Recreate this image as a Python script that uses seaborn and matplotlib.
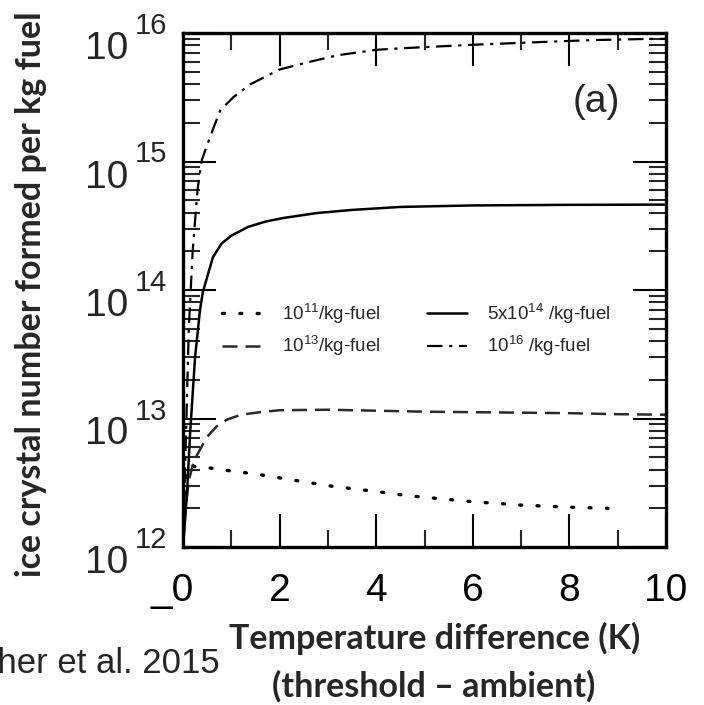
import matplotlib
matplotlib.use("Agg")
import matplotlib.pyplot as plt
import matplotlib.ticker as mticker
from matplotlib.transforms import ScaledTranslation, blended_transform_factory
import numpy as np
import pandas as pd
import seaborn as sns

# Temperature difference (K) and ice crystal number per kg fuel, per soot emission index
x_ei11 = [0.0, 0.05, 0.1, 0.3, 0.6, 1.0, 1.5, 1.9, 3.0, 4.0, 4.7, 6.0, 7.0, 8.0, 8.8]
n_ei11 = [1.0e12, 3.0e12, 4.3e12, 4.2e12, 4.1e12, 3.9e12, 3.7e12, 3.5e12, 3.0e12,
          2.7e12, 2.5e12, 2.25e12, 2.12e12, 2.04e12, 2.0e12]

x_ei13 = [0.0, 0.05, 0.12, 0.2, 0.29, 0.5, 0.7, 0.91, 1.2, 1.6, 2.0, 3.0, 4.0, 5.0, 6.0,
          7.0, 8.0, 9.0, 10.0]
n_ei13 = [1.0e12, 2.0e12, 3.3e12, 4.3e12, 5.2e12, 7.2e12, 8.7e12, 9.8e12, 1.07e13, 1.12e13,
          1.16e13, 1.17e13, 1.15e13, 1.13e13, 1.12e13, 1.11e13, 1.10e13, 1.08e13, 1.07e13]

x_ei14 = [0.0, 0.08, 0.15, 0.25, 0.35, 0.41, 0.5, 0.62, 0.8, 1.0, 1.35, 1.7, 2.07, 2.77,
          3.5, 4.5, 6.0, 8.0, 10.0]
n_ei14 = [1.0e12, 2.5e12, 8.0e12, 3.0e13, 6.9e13, 9.6e13, 1.26e14, 1.8e14, 2.3e14, 2.65e14,
          3.1e14, 3.4e14, 3.63e14, 3.97e14, 4.2e14, 4.43e14, 4.55e14, 4.6e14, 4.62e14]

x_ei16 = [0.0, 0.05, 0.12, 0.2, 0.3, 0.39, 0.56, 0.77, 1.04, 1.39, 2.0, 2.57, 3.19, 4.0,
          4.5, 6.0, 7.4, 8.43, 9.67, 10.0]
n_ei16 = [1.0e12, 5.0e12, 5.0e13, 2.0e14, 6.0e14, 1.03e15, 1.55e15, 2.5e15, 3.16e15, 3.98e15,
          5.2e15, 5.9e15, 6.7e15, 7.4e15, 7.6e15, 8.1e15, 8.5e15, 8.8e15, 9.0e15, 9.0e15]

labels = ["$10^{11}$/kg-fuel", "$10^{13}$/kg-fuel", "5x$10^{14}$ /kg-fuel", "$10^{16}$ /kg-fuel"]
x_ticks = [0, 2, 4, 6, 8, 10]
x_tick_labels = ["_0", "2", "4", "6", "8", "10"]
y_exponents = [12, 13, 14, 15, 16]

sns.set_style("ticks")
plt.rcParams["font.family"] = ["Liberation Sans", "DejaVu Sans"]
plt.rcParams["mathtext.fontset"] = "custom"
plt.rcParams["mathtext.rm"] = "Liberation Sans"
plt.rcParams["mathtext.it"] = "Liberation Sans:italic"
plt.rcParams["mathtext.bf"] = "Liberation Sans:bold"

fig = plt.figure(figsize=(7.04, 7.05), dpi=100)
ax = fig.add_axes([183 / 704, 1 - 547 / 705, 483 / 704, 514 / 705])

styles = [
    dict(linestyle=(0, (0.6, 4.6)), linewidth=2.4, dash_capstyle="round", color="black"),
    dict(linestyle=(0, (6, 3.2)), linewidth=1.8, color="#2a2a2a"),
    dict(linestyle="-", linewidth=1.8, color="black"),
    dict(linestyle=(0, (7, 3, 1.4, 3)), linewidth=1.6, color="black"),
]
series = [(x_ei11, n_ei11), (x_ei13, n_ei13), (x_ei14, n_ei14), (x_ei16, n_ei16)]
for (xs, ns), lab, st in zip(series, labels, styles):
    df = pd.DataFrame({"dT": xs, "n": ns})
    sns.lineplot(data=df, x="dT", y="n", ax=ax, label=lab, **st)

ax.set_yscale("log")
ax.set_xlim(0, 10)
ax.set_ylim(1e12, 1e16)
ax.set_xticks(x_ticks)
ax.set_xticklabels(x_tick_labels)
ax.xaxis.set_minor_locator(mticker.MultipleLocator(1))
ax.yaxis.set_major_locator(mticker.FixedLocator([10.0 ** e for e in y_exponents]))
ax.yaxis.set_minor_locator(mticker.LogLocator(base=10, subs=np.arange(2, 10), numticks=20))
ax.yaxis.set_major_formatter(mticker.NullFormatter())
ax.yaxis.set_minor_formatter(mticker.NullFormatter())

for sp in ax.spines.values():
    sp.set_visible(True)
    sp.set_linewidth(2.4)
    sp.set_color("black")

ax.tick_params(which="major", direction="in", length=24, width=1.5, top=True, right=True,
               labelsize=28, colors="black")
ax.tick_params(which="minor", direction="in", length=12, width=1.5, top=True, right=True)
ax.tick_params(axis="x", which="major", pad=19)
ax.set_xlabel("")
ax.set_ylabel("")

# shift the "_0" label so the zero sits under the origin
zero_lbl = ax.get_xticklabels()[0]
zero_lbl.set_transform(zero_lbl.get_transform() + ScaledTranslation(-0.11, 0, fig.dpi_scale_trans))

# power-of-ten labels with a raised exponent
ylab_tr = blended_transform_factory(ax.transAxes, ax.transData)
for e in y_exponents:
    ax.text(0, 10.0 ** e, "10", fontsize=28, ha="right", va="baseline",
            transform=ylab_tr + ScaledTranslation(-0.55, -0.26, fig.dpi_scale_trans))
    ax.text(0, 10.0 ** e, str(e), fontsize=21, ha="left", va="baseline",
            transform=ylab_tr + ScaledTranslation(-0.485, -0.01, fig.dpi_scale_trans))

leg = ax.legend(loc="upper left", bbox_to_anchor=(0.081, 0.477), ncol=2, frameon=False,
                fontsize=13.5, handlelength=2.1, handletextpad=1.1, columnspacing=2.5,
                borderpad=0, borderaxespad=0, labelspacing=0.45)

ax.text(0.855, 0.865, "(a)", transform=ax.transAxes, fontsize=28, ha="center", va="center")

fig.text(31 / 704, 1 - 294 / 705, "ice crystal number formed per kg fuel", rotation=90,
         fontsize=24.5, fontweight="bold", family=["Lato", "DejaVu Sans"],
         ha="center", va="center")
fig.text(435 / 704, 1 - 649 / 705, "Temperature difference (K)",
         fontsize=24.5, fontweight="bold", family=["Lato", "DejaVu Sans"],
         ha="center", va="baseline")
fig.text(434 / 704, 1 - 697 / 705, "(threshold – ambient)",
         fontsize=24.5, fontweight="bold", family=["Lato", "DejaVu Sans"],
         ha="center", va="baseline")
fig.text(220 / 704, 1 - 673 / 705, "Kärcher et al. 2015", fontsize=25, ha="right", va="baseline")

fig.savefig("out.png", dpi=100)
